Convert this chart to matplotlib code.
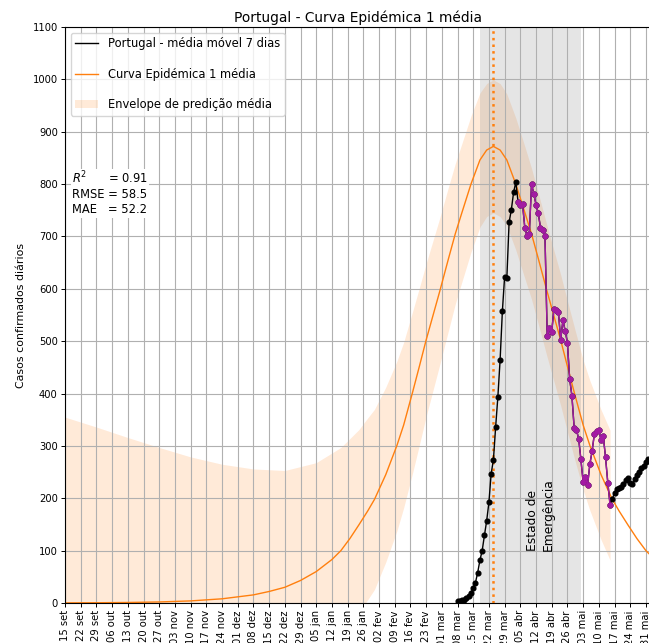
import matplotlib
matplotlib.use("Agg")
import matplotlib.pyplot as plt
from matplotlib.lines import Line2D
from matplotlib.patches import Patch
import pandas as pd


# média móvel de 7 dias (casos diários), um valor por dia desde 08/03/2020
inicio_dados = "2020-03-08"
media_movel = [3, 4, 5, 6, 9, 13, 19, 29, 39, 58, 82, 100, 129, 157, 192, 247, 273,
               336, 394, 465, 557, 623, 621, 727, 751, 784, 804,
               766, 760, 762, 717, 700, 704, 800, 782, 761, 744, 717, 712, 700,
               509, 525, 518, 562, 560, 555, 503, 540, 520, 497,
               428, 396, 335, 331, 314, 275, 231, 241, 225, 265, 290, 322, 328, 330,
               312, 318, 278, 230, 188,
               199, 210, 217, 220, 222, 228, 235, 238, 230, 227, 236, 244, 250, 258,
               262, 270, 275]

# período destacado a magenta
destaque_ini = "2020-04-04"
destaque_fim = "2020-05-15"

# curva epidémica (média)
curva_datas = ["2019-09-15", "2019-09-29", "2019-10-13", "2019-10-27", "2019-11-10",
               "2019-11-24", "2019-12-08", "2019-12-15", "2019-12-22", "2019-12-29",
               "2020-01-05", "2020-01-12", "2020-01-16", "2020-01-20", "2020-01-24",
               "2020-01-28", "2020-01-31", "2020-02-05", "2020-02-10", "2020-02-13",
               "2020-02-17", "2020-02-20", "2020-02-23", "2020-02-26", "2020-02-29",
               "2020-03-04", "2020-03-07", "2020-03-10", "2020-03-14", "2020-03-18",
               "2020-03-21", "2020-03-24", "2020-03-27", "2020-03-30", "2020-04-03",
               "2020-04-07", "2020-04-10", "2020-04-13", "2020-04-17", "2020-04-20",
               "2020-04-23", "2020-04-26", "2020-04-29", "2020-05-03", "2020-05-06",
               "2020-05-11", "2020-05-16", "2020-05-19", "2020-05-23", "2020-05-27",
               "2020-05-31", "2020-06-04"]
curva_media = [0.25, 0.5, 1, 2, 4,
               8, 15.5, 22, 30, 43,
               60, 83, 100, 123, 149,
               176, 198, 245, 301, 340,
               403, 452, 502, 548, 594,
               658, 705, 746, 800, 846,
               865, 872, 865, 846, 800,
               746, 705, 658, 594, 548,
               502, 452, 403, 340, 301,
               245, 198, 176, 149, 123,
               100, 83]

# envelope de predição
env_datas = ["2019-09-15", "2019-09-29", "2019-10-13", "2019-10-27", "2019-11-10",
             "2019-11-24", "2019-12-08", "2019-12-22", "2020-01-05", "2020-01-16",
             "2020-01-24", "2020-01-27", "2020-01-31", "2020-02-05", "2020-02-10",
             "2020-02-13", "2020-02-17", "2020-02-20", "2020-02-23", "2020-02-26",
             "2020-02-29", "2020-03-04", "2020-03-07", "2020-03-10", "2020-03-14",
             "2020-03-18", "2020-03-21", "2020-03-24", "2020-03-27", "2020-03-30",
             "2020-04-03", "2020-04-07", "2020-04-10", "2020-04-13", "2020-04-17",
             "2020-04-20", "2020-04-23", "2020-04-26", "2020-04-29", "2020-05-03",
             "2020-05-06", "2020-05-11", "2020-05-15"]
env_sup = [355, 336, 316, 297, 279, 265, 256, 253, 268, 297,
           331, 348, 370, 412, 462, 498, 557, 602, 648, 691,
           734, 795, 839, 878, 930, 974, 992, 999, 992, 972,
           926, 872, 830, 783, 719, 673, 627, 577, 528, 464,
           425, 369, 330]
env_inf = [0, 0, 0, 0, 0, 0, 0, 0, 0, 0,
           0, 0, 26, 78, 138, 182, 249, 302, 356, 405,
           454, 521, 571, 614, 670, 718, 738, 745, 738, 720,
           674, 620, 580, 533, 469, 423, 377, 327, 278, 216,
           177, 121, 82]

pico = "2020-03-24"
estado_emergencia = ("2020-03-18", "2020-05-02")
metricas = {"R2": 0.91, "RMSE": 58.5, "MAE": 52.2}

meses = ["jan", "fev", "mar", "abr", "mai", "jun", "jul", "ago", "set", "out", "nov", "dez"]


# séries
serie = pd.Series(media_movel,
                  index=pd.date_range(inicio_dados, periods=len(media_movel), freq="D"))
destaque = serie[destaque_ini:destaque_fim]
curva_x = pd.to_datetime(curva_datas)
env_x = pd.to_datetime(env_datas)


# figura
fig = plt.figure(figsize=(6.49, 6.43), dpi=100)
ax = fig.add_axes([65 / 649, 40 / 643, 585.4 / 649, 576 / 643])

ax.fill_between(env_x, env_inf, env_sup, color="tab:orange", alpha=0.16, lw=0)
ax.axvspan(pd.Timestamp(estado_emergencia[0]), pd.Timestamp(estado_emergencia[1]),
           color="gray", alpha=0.2, lw=0)
ax.plot(curva_x, curva_media, color="tab:orange", lw=1)
ax.axvline(pd.Timestamp(pico), color="tab:orange", ls=":", lw=1.8)
ax.plot(serie.index, serie.values, "o-", color="k", lw=1, ms=3.4)
ax.plot(destaque.index, destaque.values, "o-", color="#a31ba3", lw=1, ms=3.4)

ax.text(pd.Timestamp("2020-04-14"), 100, "Estado de\nEmergência", rotation=90,
        ha="center", va="bottom", multialignment="left", fontsize=8.8)

txt = ("$R^2$      = %.2f\nRMSE = %.1f\nMAE   = %.1f"
       % (metricas["R2"], metricas["RMSE"], metricas["MAE"]))
ax.text(0.012, 0.752, txt, transform=ax.transAxes, va="top", ha="left", fontsize=8.3,
        bbox=dict(boxstyle="square,pad=0.1", facecolor="white", edgecolor="none"))

# eixos
ticks = pd.date_range("2019-09-15", "2020-05-31", freq="7D")
ax.set_xticks(ticks)
ax.set_xticklabels([f"{d.day:02d} {meses[d.month - 1]}" for d in ticks], rotation=90)
ax.set_xlim(pd.Timestamp("2019-09-15"), pd.Timestamp("2020-06-02"))
ax.set_ylim(0, 1100)
ax.set_yticks(range(0, 1101, 100))
ax.tick_params(labelsize=7.2, length=2.8, width=0.7, pad=2.4)
ax.grid(True)
ax.set_ylabel("Casos confirmados diários", fontsize=7.9, labelpad=5)
ax.set_title("Portugal - Curva Epidémica 1 média", fontsize=9.9, pad=3.5)

handles = [Line2D([], [], color="k", lw=1),
           Line2D([], [], color="tab:orange", lw=1),
           Patch(facecolor="tab:orange", alpha=0.16)]
labels = ["Portugal - média móvel 7 dias", "Curva Epidémica 1 média",
          "Envelope de predição média"]
ax.legend(handles, labels, loc="upper left", labelspacing=1.5, fontsize=8.3)

fig.savefig("out.png", dpi=100)
